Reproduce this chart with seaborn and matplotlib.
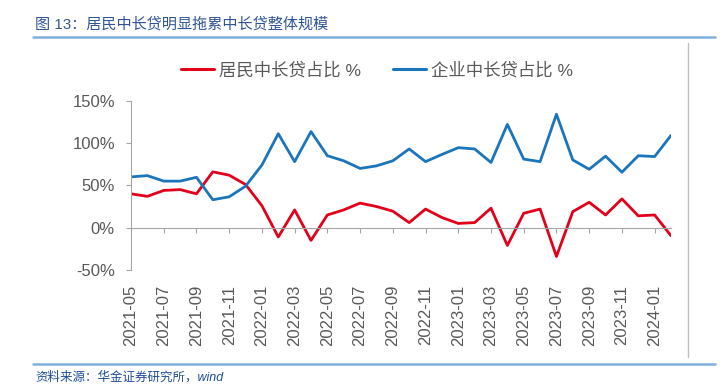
import pandas as pd
import matplotlib.pyplot as plt
import seaborn as sns
from matplotlib.lines import Line2D

sns.set_style('white')
plt.rcParams['font.family'] = ['Liberation Sans', 'Noto Sans CJK SC', 'DejaVu Sans']
plt.rcParams['axes.unicode_minus'] = False

# Monthly share of medium/long-term loans, 2021-05 .. 2024-02 (%)
months = pd.date_range('2021-05-01', periods=34, freq='MS').strftime('%Y-%m').tolist()
household = [40, 37, 44, 45, 40, 66, 62, 51, 26, -11, 21, -15, 15, 21,
             29, 25, 19.5, 6, 22, 12, 5, 6, 23, -21, 17, 22, -34, 19,
             30, 15, 34, 14, 15, -9.5]
corporate = [60, 61.5, 55, 55, 59.5, 33, 36.5, 49, 74, 111, 78, 113.5, 85, 79,
             70, 73, 79, 93, 78, 86.5, 94.5, 93, 77, 122, 81, 78, 134, 80,
             69, 84.5, 65.5, 85, 84, 109]
series_names = ['居民中长贷占比 %', '企业中长贷占比 %']
colors = {'居民中长贷占比 %': '#E2001A', '企业中长贷占比 %': '#1B75BB'}

df = pd.DataFrame({
    'idx': list(range(len(months))) * 2,
    'value': household + corporate,
    'series': [series_names[0]] * len(months) + [series_names[1]] * len(months),
})

W, H = 727, 384
fig = plt.figure(figsize=(W / 100, H / 100), dpi=100)
ax = fig.add_axes([131 / W, 1 - 270 / H, 540 / W, 169.3 / H])

sns.lineplot(data=df, x='idx', y='value', hue='series', palette=colors,
             linewidth=2.0, ax=ax, legend=False)

ax.set_xlim(0, len(months) - 1)
ax.set_ylim(-50, 150)
ax.set_yticks([-50, 0, 50, 100, 150])
ax.set_yticklabels([f'{v}%' for v in [-50, 0, 50, 100, 150]])
ax.set_xticks(range(0, len(months), 2))
ax.set_xticklabels(months[::2])
ax.set_xlabel('')
ax.set_ylabel('')

for side in ['top', 'right']:
    ax.spines[side].set_visible(False)
ax.spines['left'].set_color('#A6A6A6')
ax.spines['bottom'].set_color('#A6A6A6')
ax.spines['bottom'].set_position(('data', 0))
ax.spines['left'].set_linewidth(0.8)
ax.spines['bottom'].set_linewidth(0.8)

ax.tick_params(axis='x', direction='out', length=3.5, width=0.8, color='#A6A6A6',
               pad=37.5, labelrotation=90, labelsize=12, labelcolor='#595959', bottom=True)
ax.tick_params(axis='y', direction='out', length=3.6, width=0.8, color='#A6A6A6',
               pad=8, labelsize=12, labelcolor='#595959', left=True)
ax.grid(False)

handles = [Line2D([], [], color=colors[n], linewidth=2.2) for n in series_names]
fig.legend(handles, series_names, loc='center', ncol=2, frameon=False,
           bbox_to_anchor=(377 / W, 1 - 70 / H), fontsize=12.5,
           handlelength=1.9, handletextpad=0.25, columnspacing=1.9,
           labelcolor='#595959')

# header / footer decorations
fig.text(35 / W, 1 - 24 / H, '图 13：居民中长贷明显拖累中长贷整体规模', fontsize=10.9,
         color='#2F5597', ha='left', va='center')
fig.add_artist(Line2D([33 / W, 715 / W], [1 - 37 / H, 1 - 37 / H],
                      color='#7FB0DC', linewidth=1.8, transform=fig.transFigure))
fig.add_artist(Line2D([33 / W, 715 / W], [1 - 363.5 / H, 1 - 363.5 / H],
                      color='#7FB0DC', linewidth=1.8, transform=fig.transFigure))
fig.add_artist(Line2D([688 / W, 688 / W], [1 - 43 / H, 1 - 357 / H],
                      color='#BFBFBF', linewidth=1.0, transform=fig.transFigure))
fig.text(35 / W, 1 - 377 / H, '资料来源：华金证券研究所，wind', fontsize=9,
         color='#1F4E9A', ha='left', va='center', style='italic')

fig.savefig('out.png', dpi=100, facecolor='white')
